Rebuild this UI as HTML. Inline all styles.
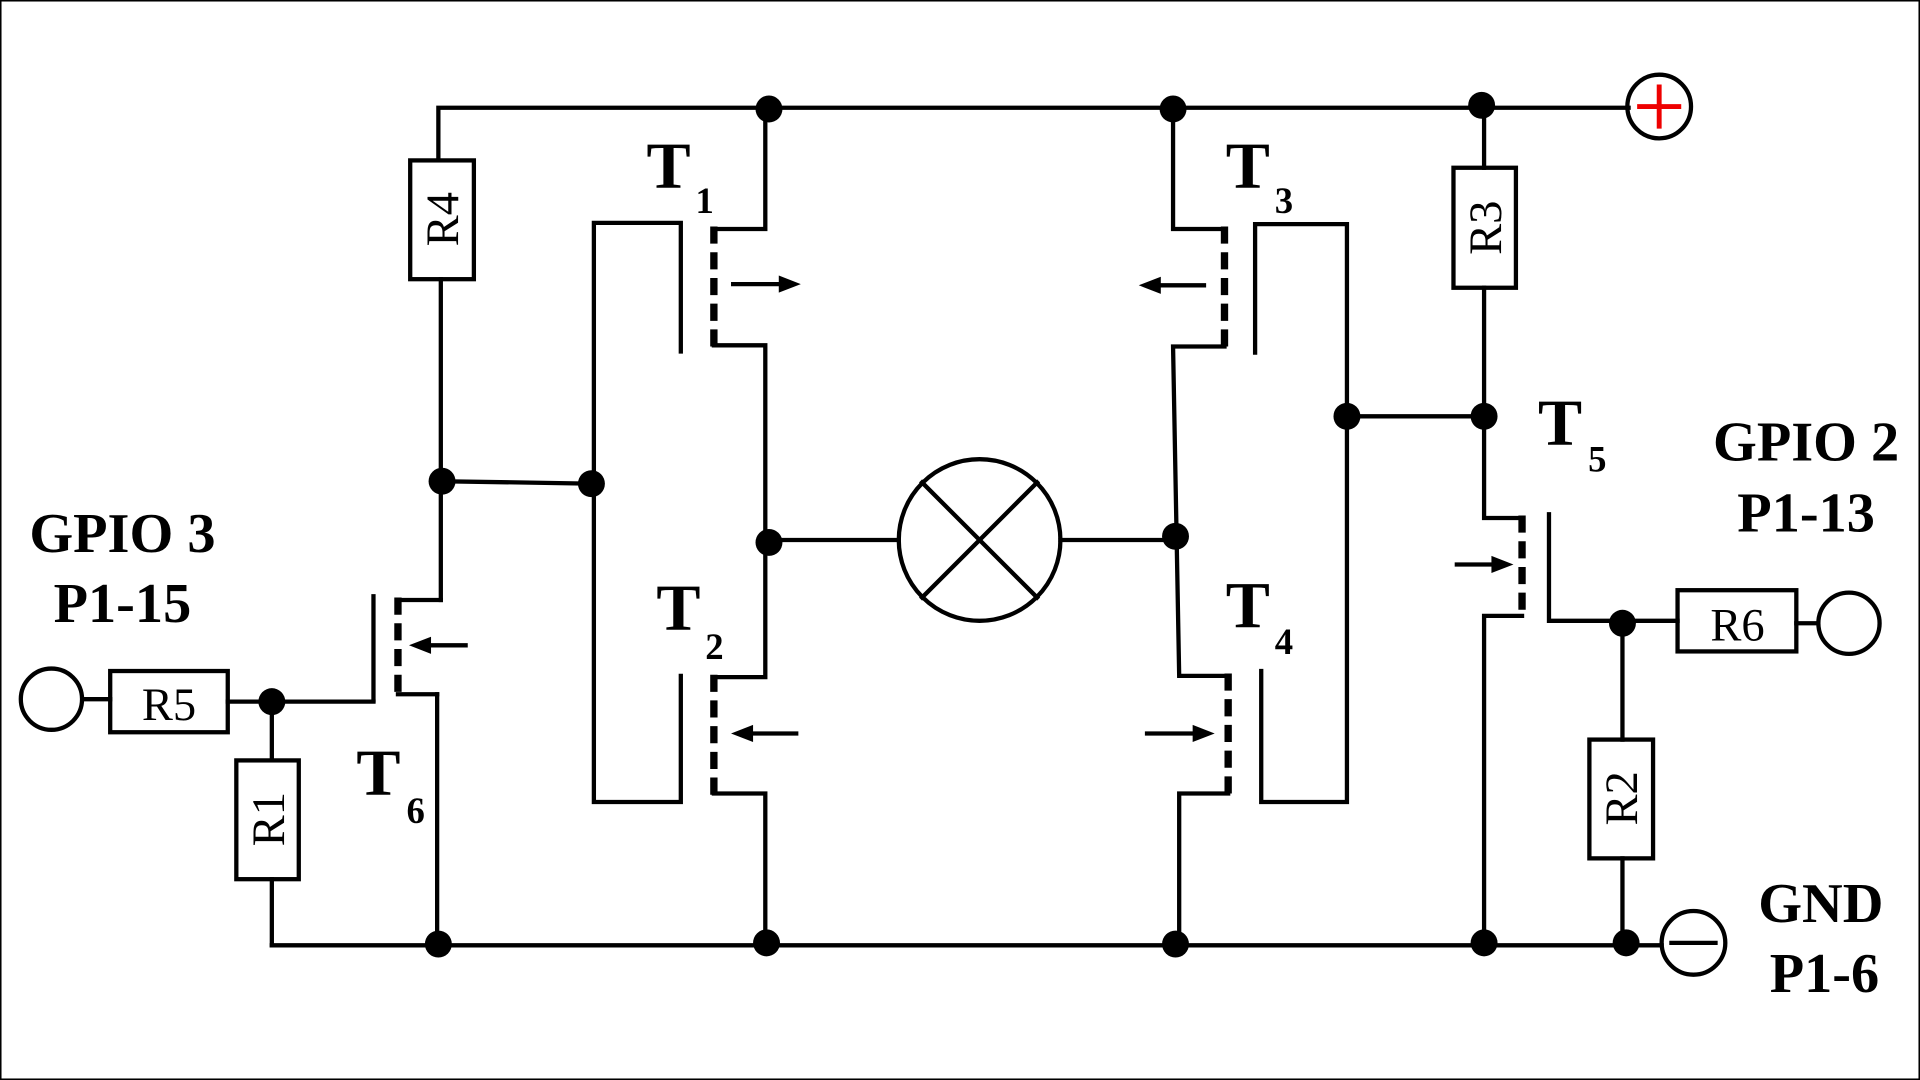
<!DOCTYPE html>
<html><head><meta charset="utf-8"><style>html,body{margin:0;padding:0;background:#fff}svg{display:block}</style></head>
<body>
<svg width="1920" height="1080" viewBox="0 0 1568 882" xmlns="http://www.w3.org/2000/svg">
<rect x="0.5" y="0.5" width="1567" height="881" fill="#fff" stroke="#000" stroke-width="1.5"/>
<g stroke="#000" stroke-width="3.5" fill="none" stroke-linecap="square">
<polyline points="358,131 358,88 1330,88"/>
<line x1="222" y1="772" x2="1357" y2="772"/>
<line x1="360" y1="228" x2="360" y2="490"/>
<line x1="357" y1="567" x2="357" y2="772"/>
<line x1="361" y1="393" x2="485" y2="395"/>
<polyline points="556,287 556,182 485,182 485,655 556,655 556,552"/>
<line x1="305" y1="487" x2="305" y2="572"/>
<polyline points="325,490 357,490 360,490"/>
<line x1="325" y1="567" x2="357" y2="567"/>
<line x1="68" y1="571" x2="90" y2="571"/>
<line x1="186" y1="573" x2="305" y2="573"/>
<line x1="222" y1="573" x2="222" y2="621"/>
<line x1="222" y1="718" x2="222" y2="772"/>
<polyline points="625,88 625,187 583,187"/>
<polyline points="583,282 625,282 625,553 583,553"/>
<polyline points="583,648 625,648 625,770"/>
<line x1="628" y1="441" x2="734" y2="441"/>
<line x1="866" y1="441" x2="960" y2="441"/>
<circle cx="800" cy="441" r="66"/>
<line x1="753" y1="394" x2="847" y2="488"/>
<line x1="847" y1="394" x2="753" y2="488"/>
<polyline points="958,88 958,187 1000,187"/>
<polyline points="1000,283 958,283 963,552 1003,552"/>
<polyline points="1003,648 963,648 963,772"/>
<polyline points="1025,288 1025,183 1100,183 1100,655 1030,655 1030,548"/>
<line x1="1100" y1="340" x2="1212" y2="340"/>
<line x1="1212" y1="88" x2="1212" y2="137"/>
<polyline points="1212,235 1212,423 1243,423"/>
<polyline points="1243,503 1212,503 1212,772"/>
<polyline points="1265,420 1265,507 1370,507"/>
<line x1="1467" y1="509" x2="1485" y2="509"/>
<line x1="1325" y1="509" x2="1325" y2="604"/>
<line x1="1325" y1="701" x2="1325" y2="772"/>
<rect x="335" y="131" width="52" height="97"/>
<rect x="1187" y="137" width="51" height="98"/>
<rect x="193" y="621" width="51" height="97"/>
<rect x="1298" y="604" width="52" height="97"/>
<rect x="90" y="548" width="96" height="50"/>
<rect x="1370" y="482" width="97" height="50"/>
<circle cx="42" cy="571" r="25"/>
<circle cx="1510" cy="509" r="25"/>
<circle cx="1355" cy="87" r="26"/>
<circle cx="1383" cy="770" r="26"/>
<line x1="1365" y1="770" x2="1401" y2="770"/>
</g>
<g stroke="#e00" stroke-width="4"><line x1="1337" y1="87" x2="1373" y2="87"/><line x1="1355" y1="69" x2="1355" y2="105"/></g>
<g stroke="#000" stroke-width="6" stroke-dasharray="14,7" fill="none">
<line x1="583" y1="185" x2="583" y2="284"/>
<line x1="583" y1="551" x2="583" y2="650"/>
<line x1="1000" y1="185" x2="1000" y2="285"/>
<line x1="1003" y1="550" x2="1003" y2="650"/>
<line x1="1243" y1="421" x2="1243" y2="505"/>
<line x1="325" y1="488" x2="325" y2="569"/>
</g>
<g stroke="#000" stroke-width="3.5">
<line x1="597" y1="232" x2="640" y2="232"/>
<line x1="612" y1="599" x2="652" y2="599"/>
<line x1="945" y1="233" x2="985" y2="233"/>
<line x1="935" y1="599" x2="978" y2="599"/>
<line x1="1188" y1="461" x2="1224" y2="461"/>
<line x1="348" y1="527" x2="382" y2="527"/>
</g>
<g fill="#000">
<polygon points="654,232 636,225 636,239"/>
<polygon points="597,599 615,592 615,606"/>
<polygon points="930,233 948,226 948,240"/>
<polygon points="992,599 974,592 974,606"/>
<polygon points="1236,461 1218,454 1218,468"/>
<polygon points="334,527 352,520 352,534"/>
<circle cx="628" cy="89" r="11"/><circle cx="958" cy="89" r="11"/><circle cx="1210" cy="86" r="11"/>
<circle cx="361" cy="393" r="11"/><circle cx="483" cy="395" r="11"/>
<circle cx="628" cy="443" r="11"/><circle cx="960" cy="438" r="11"/>
<circle cx="1100" cy="340" r="11"/><circle cx="1212" cy="340" r="11"/>
<circle cx="1325" cy="509" r="11"/><circle cx="222" cy="573" r="11"/>
<circle cx="358" cy="771" r="11"/><circle cx="626" cy="770" r="11"/><circle cx="960" cy="771" r="11"/>
<circle cx="1212" cy="770" r="11"/><circle cx="1328" cy="770" r="11"/>
</g>
<g font-family="Liberation Serif, serif" fill="#000" font-weight="bold">
<text x="528" y="153" font-size="54">T</text><text x="568" y="174" font-size="30">1</text>
<text x="1001" y="153" font-size="54">T</text><text x="1041" y="174" font-size="30">3</text>
<text x="536" y="514" font-size="54">T</text><text x="576" y="538" font-size="30">2</text>
<text x="1001" y="512" font-size="54">T</text><text x="1041" y="534" font-size="30">4</text>
<text x="1256" y="363" font-size="54">T</text><text x="1297" y="385" font-size="30">5</text>
<text x="291" y="649" font-size="54">T</text><text x="332" y="672" font-size="30">6</text>
<g font-size="46" text-anchor="middle">
<text x="100" y="451">GPIO 3</text><text x="100" y="508">P1-15</text>
<text x="1475" y="376">GPIO 2</text><text x="1475" y="434">P1-13</text>
<text x="1487" y="753">GND</text><text x="1490" y="810">P1-6</text>
</g>
<g font-size="38" text-anchor="middle" font-weight="normal">
<text x="138" y="588">R5</text><text x="1419" y="523">R6</text>
<text transform="translate(374,179) rotate(-90)">R4</text>
<text transform="translate(1226,186) rotate(-90)">R3</text>
<text transform="translate(232,669) rotate(-90)">R1</text>
<text transform="translate(1337,652) rotate(-90)">R2</text>
</g>
</g>
</svg>
</body></html>
